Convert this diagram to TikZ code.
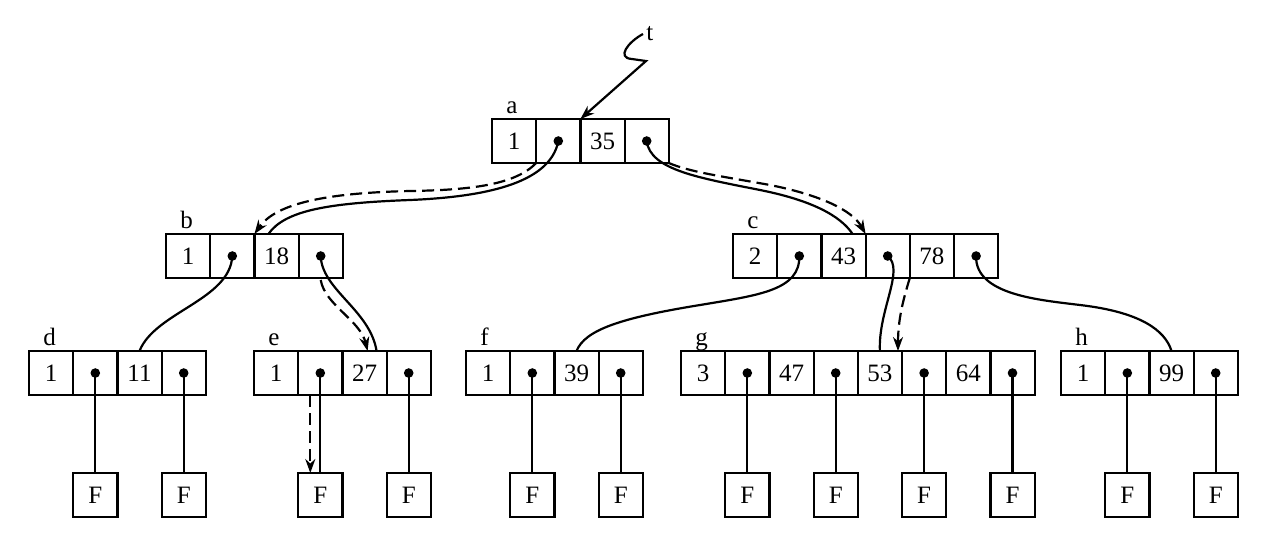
\documentclass[tikz,border=0pt]{standalone}
\usepackage{fontspec}
\setmainfont{Liberation Serif}
\usetikzlibrary{arrows.meta,calc}
\tikzset{
  cell/.style={draw, line width=1.1pt, minimum width=22.1pt, minimum height=22pt,
    inner sep=0pt, outer sep=0pt, font=\fontsize{12.5}{14}\selectfont},
  lbl/.style={anchor=base west, inner sep=0pt, font=\fontsize{12.5}{14}\selectfont},
  link/.style={line width=1.1pt},
  dlink/.style={line width=1.1pt, dash pattern=on 6pt off 3pt, -{Stealth[length=7pt,width=5pt]}},
  alink/.style={line width=1.1pt, -{Stealth[length=7pt,width=5pt]}}
}
\newcommand\mkrec[5]{%
  \foreach \txt [count=\i] in {#5} {
    \node[cell] (#1\i) at ({#2+(\i-0.5)*44.2},{#3+22}) {\txt};
  }
  \node[lbl] (lab#1) at ({#2+14},{#3-6}) {#4};
}
\begin{document}
\begin{tikzpicture}[x=0.5pt,y=-0.5pt]
\useasboundingbox (0,0) rectangle (1267,537);
\mkrec{a}{492}{119}{a}{1,{},35,{}}
\mkrec{b}{166}{234}{b}{1,{},18,{}}
\mkrec{c}{733}{234}{c}{2,{},43,{},78,{}}
\mkrec{d}{29}{351}{d}{1,{},11,{}}
\mkrec{e}{254}{351}{e}{1,{},27,{}}
\mkrec{f}{466}{351}{f}{1,{},39,{}}
\mkrec{g}{681}{351}{g}{3,{},47,{},53,{},64,{}}
\mkrec{h}{1061}{351}{h}{1,{},99,{}}
\coordinate (Frow) at (0,495);
\foreach \n in {a2,a4,b2,b4,c2,c4,c6}
  \fill (\n.center) circle[radius=2.4pt];
\foreach \n in {d2,d4,e2,e4,f2,f4,g2,g4,g6,g8,h2,h4} {
  \node[cell] (F\n) at (\n |- Frow) {F};
  \draw[link] (\n.center) -- (F\n.north);
  \fill (\n.center) circle[radius=2.4pt];
}
% head pointer t
\node[lbl] (tl) at (646,40) {t};
\coordinate (tpt) at (643,34);
\draw[alink] (tpt) .. controls (628,42) and (616,58) .. (632,59) -- (646,61) -- (a3.north west);
% a -> b
\draw[link] (a2.center) .. controls (550,185) and (480,197) .. (410,200)
  .. controls (330,203) and (285,210) .. ($(b3.north west)+(14,0)$);
\draw[dlink] (a2.south west) .. controls (515,185) and (470,190) .. (410,191)
  .. controls (320,193) and (275,205) .. (b3.north west);
% a -> c
\draw[link] (a4.center) .. controls (650,170) and (700,178) .. (760,190)
  .. controls (810,200) and (840,215) .. ($(c3.north east)+(-13,0)$);
\draw[dlink] (a4.south east) .. controls (690,172) and (720,176) .. (770,185)
  .. controls (820,195) and (852,210) .. (c3.north east);
% b -> d
\draw[link] (b2.center) .. controls (230,300) and (155,312) .. (d3.north);
% b -> e
\draw[link] (b4.center) .. controls (322,290) and (370,310) .. ($(e3.north east)+(-10,0)$);
\draw[dlink] ($(b4.south)+(0,2)$) .. controls (325,305) and (360,320) .. ($(e3.north east)+(-19,0)$);
% c -> f
\draw[link] (c2.center) .. controls (800,290) and (760,295) .. (700,305)
  .. controls (620,318) and (585,330) .. (f3.north);
% c -> g
\draw[link] (c4.center) .. controls (905,270) and (878,310) .. (g5.north);
\draw[dlink] (c5.south west) .. controls (903,300) and (898,320) .. ($(g5.north east)+(-4,0)$);
% c -> h
\draw[link] (c6.center) .. controls (975,295) and (1040,300) .. (1080,305)
  .. controls (1140,312) and (1165,330) .. (h3.north);
% e: dashed search path down
\draw[dlink] ($(e2.south)+(-10,0)$) -- ($(Fe2.north)+(-10,0)$);
\end{tikzpicture}
\end{document}
